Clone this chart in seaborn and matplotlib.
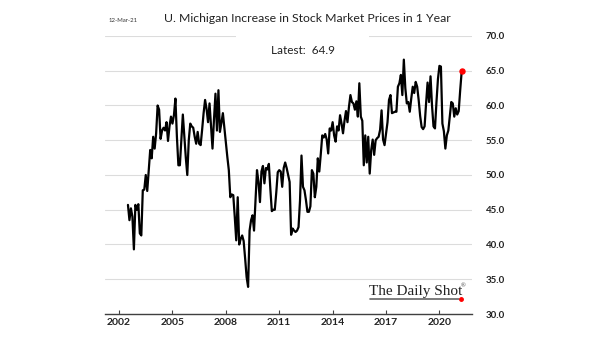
import numpy as np
import pandas as pd
import matplotlib
matplotlib.use("Agg")
import matplotlib.pyplot as plt
from matplotlib.patches import Rectangle
from matplotlib.lines import Line2D
import seaborn as sns

# Monthly survey mean, June 2002 onward (percent expecting stock prices to rise)
start_month = "2002-06"
expectations = [
    45.7, 43.5, 45.2, 44.0, 39.3, 45.7, 45.0, 45.8, 41.6, 41.3,
    47.8, 47.9, 50.0, 47.7, 50.7, 53.6, 52.4, 55.5, 53.8, 56.0,
    60.0, 59.4, 55.2, 56.4, 56.8, 56.4, 57.6, 54.9, 57.0, 58.4,
    57.4, 58.6, 61.0, 55.5, 51.4, 51.4, 55.0, 58.7, 55.5, 52.5,
    50.0, 55.0, 57.4, 57.0, 56.8, 55.5, 54.5, 56.2, 54.5, 54.3,
    56.5, 58.9, 60.8, 59.5, 57.6, 60.3, 57.0, 53.8, 58.0, 61.7,
    56.4, 62.2, 56.2, 57.5, 58.9, 56.8, 54.8, 52.6, 50.7, 46.8,
    47.2, 47.1, 44.0, 40.6, 46.8, 40.0, 40.8, 41.3, 40.5, 38.0,
    35.3, 33.9, 42.0, 43.5, 44.2, 42.0, 46.5, 50.7, 49.0, 46.1,
    50.5, 51.3, 48.8, 51.0, 50.8, 51.6, 48.0, 44.8, 45.0, 45.0,
    47.5, 50.4, 50.7, 50.5, 48.3, 51.0, 51.8, 51.0, 50.0, 49.0,
    41.4, 42.3, 42.0, 41.8, 42.0, 42.5, 46.3, 52.8, 48.3, 47.8,
    46.4, 44.7, 44.7, 45.5, 50.7, 50.2, 46.8, 48.3, 52.4, 50.5,
    53.0, 55.7, 55.4, 55.9, 55.1, 53.1, 56.7, 56.4, 57.6, 55.7,
    54.8, 57.0, 56.4, 58.6, 57.4, 56.0, 57.8, 59.2, 57.6, 59.8,
    61.5, 60.5, 60.3, 59.4, 60.6, 58.4, 63.2, 58.4, 57.8, 51.4,
    55.7, 51.8, 55.5, 50.2, 53.6, 55.1, 52.9, 55.0, 55.3, 55.5,
    56.5, 59.3, 55.1, 54.3, 56.0, 57.6, 60.8, 61.5, 58.9, 59.0,
    59.1, 59.1, 62.7, 63.2, 64.4, 61.5, 66.6, 62.5, 60.3, 60.5,
    59.1, 61.0, 62.7, 61.8, 63.4, 62.7, 60.8, 58.5, 56.9, 56.6,
    57.0, 60.3, 63.3, 60.5, 64.2, 60.0, 57.0, 56.7, 60.5, 63.8,
    65.7, 65.6, 57.4, 56.3, 53.8, 55.7, 56.4, 58.5, 60.5, 60.3,
    58.4, 59.6, 58.7, 59.2, 62.2, 64.9,
]
year_ticks = [2002, 2005, 2008, 2011, 2014, 2017, 2020]
value_ticks = [30, 35, 40, 45, 50, 55, 60, 65, 70]
title = "U. Michigan Increase in Stock Market Prices in 1 Year"
date_stamp = "12-Mar-21"

months = pd.period_range(start_month, periods=len(expectations), freq="M")
df = pd.DataFrame({
    "year": months.year + months.month / 12.0,
    "value": expectations,
})

sns.set_theme(style="white")
plt.rcParams["font.family"] = ["Lato", "DejaVu Sans"]

W, H = 605, 341
fig = plt.figure(figsize=(W / 100, H / 100), dpi=100)
ax = fig.add_axes([105 / W, 1 - 314 / H, 367 / W, 278 / H])

sns.lineplot(data=df, x="year", y="value", ax=ax, color="black",
             linewidth=1.6, zorder=3)
ax.plot(df["year"].iloc[-1], df["value"].iloc[-1], "o", color="red",
        markersize=3.6, zorder=4)

ax.set_xlim(2001.21, 2021.83)
ax.set_ylim(30, 70)
ax.set_xlabel("")
ax.set_ylabel("")

ax.set_xticks(year_ticks)
ax.set_xticklabels([str(y) for y in year_ticks], fontsize=7.5,
                   fontweight="bold", color="#222222")
ax.set_yticks(value_ticks)
ax.set_yticklabels([f"{v:.1f}" for v in value_ticks], fontsize=7,
                   fontweight="bold", color="#222222")
ax.yaxis.tick_right()
ax.tick_params(axis="y", length=0, pad=10)
ax.tick_params(axis="x", direction="in", length=3, width=0.8,
               color="#404040", pad=3, bottom=True)

ax.set_axisbelow(True)
ax.yaxis.grid(True, color="#dcdcdc", linewidth=0.8)
ax.xaxis.grid(False)
for side in ("top", "left", "right"):
    ax.spines[side].set_visible(False)
ax.spines["bottom"].set_color("#404040")
ax.spines["bottom"].set_linewidth(1.0)

# white panel behind the "Latest" label, breaking the top gridline
ax.add_patch(Rectangle((0.357, 0.94), 0.362, 0.1, transform=ax.transAxes,
                       facecolor="white", edgecolor="none", zorder=1,
                       clip_on=False))

fig.text(109 / W, 1 - 20 / H, date_stamp, fontsize=4.3, va="center",
         ha="left", color="#333333")
fig.text(307.5 / W, 1 - 18 / H, title, fontsize=8.8, va="center",
         ha="center", color="#222222")
fig.text(303.5 / W, 1 - 51 / H, f"Latest:  {expectations[-1]:.1f}",
         fontsize=8.5, va="center", ha="center", color="#222222")

# masthead in the lower right
serif = ["Liberation Serif", "DejaVu Serif"]
fig.text(369 / W, 1 - 295 / H, "The Daily Shot", fontsize=11,
         family=serif, ha="left", va="baseline", color="#222222")
fig.text(461 / W, 1 - 287 / H, "®", fontsize=4.5,
         family=serif, ha="left", va="baseline", color="#333333")
fig.add_artist(Line2D([370 / W, 459 / W], [1 - 298.5 / H, 1 - 298.5 / H],
                      transform=fig.transFigure, color="#666666", lw=1.2))
fig.add_artist(Line2D([460.5 / W], [1 - 298.5 / H], transform=fig.transFigure,
                      marker="o", markersize=2.5, color="red", lw=0))

fig.savefig("out.png", dpi=100, facecolor="white")
